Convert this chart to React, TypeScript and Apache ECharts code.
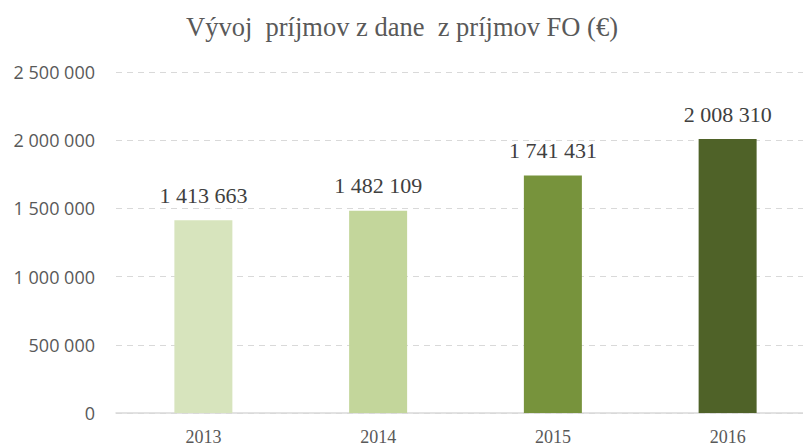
import React, { useEffect, useRef } from "react";
import * as echarts from "echarts";

const categories = ["2013", "2014", "2015", "2016"];
const values = [1413663, 1482109, 1741431, 2008310];
const barColors = ["#D7E4BD", "#C3D69B", "#77933C", "#4F6228"];
const titleText = "Vývoj  príjmov z dane  z príjmov FO (€)";

const fmt = (v: number) => String(Math.round(v)).replace(/\B(?=(\d{3})+(?!\d))/g, " ");

export default function App() {
  const ref = useRef<HTMLDivElement>(null);
  useEffect(() => {
    document.body.style.margin = "0";
    if (!ref.current) return;
    const chart = echarts.init(ref.current, undefined, { renderer: "svg" });
    chart.setOption({
      animation: false,
      backgroundColor: "#ffffff",
      title: {
        text: titleText,
        left: 181,
        top: 8,
        padding: 5,
        textStyle: {
          fontFamily: "Liberation Serif",
          fontSize: 26.5,
          fontWeight: "normal",
          color: "#595959",
        },
      },
      grid: { left: 116, top: 72, height: 341, width: 699 },
      xAxis: {
        type: "category",
        data: categories,
        axisLine: { lineStyle: { color: "#D9D9D9", width: 1.5 } },
        axisTick: { show: false },
        axisLabel: {
          fontFamily: "Liberation Serif",
          fontSize: 18,
          color: "#595959",
          margin: 15,
        },
      },
      yAxis: {
        type: "value",
        min: 0,
        max: 2500000,
        interval: 500000,
        axisLine: { show: false },
        axisTick: { show: false },
        splitLine: { lineStyle: { color: "#D9D9D9", type: [6, 5], width: 1 } },
        axisLabel: {
          fontFamily: "Open Sans",
          fontSize: 18,
          color: "#595959",
          margin: 21,
          formatter: (v: number) => fmt(v),
        },
      },
      series: [
        {
          type: "bar",
          barWidth: 58,
          data: values.map((v, i) => ({ value: v, itemStyle: { color: barColors[i] } })),
          label: {
            show: true,
            position: "top",
            distance: 14,
            fontFamily: "Liberation Serif",
            fontSize: 22,
            color: "#404040",
            formatter: (p: any) => fmt(p.value),
          },
        },
      ],
    });
    return () => chart.dispose();
  }, []);
  return (
    <div style={{ width: 803, height: 448, overflow: "hidden", position: "relative" }}>
      <div ref={ref} style={{ width: 815, height: 448 }} />
    </div>
  );
}
